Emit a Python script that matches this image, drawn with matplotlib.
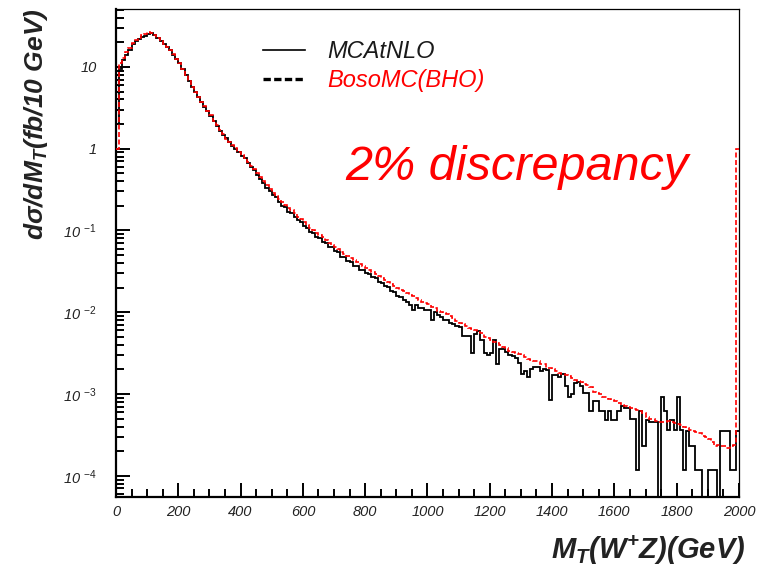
import numpy as np
import matplotlib
matplotlib.use("Agg")
import matplotlib.pyplot as plt
from matplotlib.lines import Line2D
from matplotlib.ticker import FixedLocator, LogLocator, MultipleLocator, NullFormatter

plt.rcParams['font.family'] = ['Liberation Sans', 'DejaVu Sans']
plt.rcParams['mathtext.fontset'] = 'custom'
plt.rcParams['mathtext.rm'] = 'Liberation Sans'
plt.rcParams['mathtext.it'] = 'Liberation Sans:italic'
plt.rcParams['mathtext.bf'] = 'Liberation Sans:italic:bold'
plt.rcParams['mathtext.default'] = 'it'

# 10 GeV bins from 0 to 2000 GeV
bin_width = 10
mt_min, mt_max = 0, 2000

# MCAtNLO, fb / 10 GeV
mcatnlo = [
    2.0, 9.4, 12.3, 14.0, 16.2, 18.8, 20.5, 22.0, 23.0, 23.8,
    25.5, 25.8, 24.2, 22.3, 20.6, 19.2, 17.4, 16.1, 14.1, 12.6,
    11.0, 9.4, 7.9, 6.7, 5.6, 4.9, 4.25, 3.7, 3.25, 2.9,
    2.5, 2.2, 1.9, 1.66, 1.45, 1.34, 1.2, 1.08, 1.0, 0.90,
    0.82, 0.76, 0.66, 0.60, 0.55, 0.47, 0.43, 0.385, 0.33, 0.305,
    0.27, 0.255, 0.22, 0.20, 0.192, 0.170, 0.165, 0.146, 0.133, 0.128,
    0.113, 0.108, 0.096, 0.093, 0.084, 0.080, 0.072, 0.070, 0.063, 0.062,
    0.056, 0.054, 0.048, 0.047, 0.042, 0.0415, 0.037, 0.0365, 0.033, 0.0325,
    0.0300, 0.0295, 0.0268, 0.0262, 0.0236, 0.0230, 0.0208, 0.0205, 0.0180, 0.0178,
    0.0160, 0.0155, 0.0141, 0.0135, 0.0123, 0.0107, 0.0123, 0.0112, 0.0112, 0.0107,
    0.0107, 0.0081, 0.0102, 0.0093, 0.0087, 0.0081, 0.0081, 0.0074, 0.0072, 0.0068,
    0.0066, 0.0051, 0.0051, 0.0051, 0.0032, 0.0054, 0.0059, 0.0046, 0.0032, 0.0030,
    0.0032, 0.0046, 0.0023, 0.0035, 0.0035, 0.0033, 0.0030, 0.0029, 0.00275, 0.0024,
    0.00178, 0.0019, 0.00162, 0.00204, 0.00214, 0.00214, 0.0019, 0.00204, 0.00195, 0.00085,
    0.0017, 0.0017, 0.00162, 0.00178, 0.00126, 0.00093, 0.0010, 0.00135, 0.00141, 0.00126,
    0.00102, 0.00102, 0.00062, 0.00081, 0.00081, 0.00062, 0.00062, 0.00048, 0.00062, 0.00048,
    0.00048, 0.00062, 0.00071, 0.00068, 0.00068, 0.0005, 0.0005, 0.000118, 0.00062, 0.00023,
    0.00048, 0.00046, 0.00046, 0.00046, 0, 0.00093, 0.00062, 0.00036, 0.00048, 0.00036,
    0.00093, 0.00036, 0.000118, 0.00035, 0.00023, 0.00023, 0.000118, 0.000118, 0, 0,
    0.000118, 0.000118, 0.000118, 0, 0.00035, 0.00035, 0.00035, 0.000118, 0.000118, 0.00035,
]

# BosoMC(BHO), fb / 10 GeV
bosomc = [
    1.0, 11.0, 13.0, 15.0, 17.0, 19.5, 21.2, 22.8, 24.2, 25.3,
    26.5, 26.3, 24.6, 22.5, 20.8, 19.0, 17.6, 15.9, 14.3, 12.5,
    11.2, 9.3, 8.0, 6.7, 5.7, 4.9, 4.3, 3.7, 3.3, 2.85,
    2.55, 2.2, 1.92, 1.68, 1.5, 1.33, 1.22, 1.1, 1.01, 0.92,
    0.84, 0.77, 0.69, 0.61, 0.56, 0.50, 0.445, 0.40, 0.355, 0.32,
    0.29, 0.265, 0.24, 0.222, 0.205, 0.188, 0.176, 0.162, 0.147, 0.138,
    0.126, 0.118, 0.108, 0.101, 0.094, 0.088, 0.082, 0.076, 0.071, 0.067,
    0.063, 0.059, 0.055, 0.052, 0.049, 0.046, 0.043, 0.041, 0.039, 0.037,
    0.035, 0.033, 0.031, 0.0295, 0.028, 0.0263, 0.025, 0.0237, 0.0223, 0.0212,
    0.0200, 0.0188, 0.0180, 0.0172, 0.0163, 0.0157, 0.0148, 0.0141, 0.0135, 0.0129,
    0.0125, 0.0117, 0.0112, 0.0104, 0.0102, 0.0098, 0.0094, 0.0089, 0.0086, 0.0079,
    0.0074, 0.0072, 0.0068, 0.0064, 0.0063, 0.0060, 0.0058, 0.0055, 0.0050, 0.0049,
    0.0046, 0.0043, 0.0042, 0.0040, 0.0038, 0.0037, 0.0034, 0.0033, 0.0032, 0.0031,
    0.0030, 0.0028, 0.0027, 0.0026, 0.0025, 0.0025, 0.0023, 0.0023, 0.0021, 0.0021,
    0.0020, 0.0019, 0.00182, 0.00175, 0.00170, 0.00165, 0.00158, 0.00150, 0.00146, 0.00141,
    0.00132, 0.00128, 0.00121, 0.00107, 0.00104, 0.00100, 0.00093, 0.00091, 0.00088, 0.00085,
    0.00082, 0.00078, 0.00074, 0.00072, 0.00070, 0.00068, 0.00066, 0.00063, 0.00062, 0.00058,
    0.00052, 0.0005, 0.00049, 0.00047, 0.00046, 0.00046, 0.00045, 0.00047, 0.00046, 0.00044,
    0.00043, 0.00042, 0.00040, 0.00038, 0.00036, 0.00035, 0.00034, 0.00033, 0.00031, 0.0003,
    0.00028, 0.00026, 0.00023, 0.00024, 0.00023, 0.00023, 0.00022, 0.00023, 0.00024, 1.0,
]

x_ticks = [0, 200, 400, 600, 800, 1000, 1200, 1400, 1600, 1800, 2000]
y_ticks = [1e-4, 1e-3, 1e-2, 1e-1, 1, 10]
y_ticklabels = ['10 $^{-4}$', '10 $^{-3}$', '10 $^{-2}$', '10 $^{-1}$', '1', '10']

edges = np.arange(mt_min, mt_max + bin_width, bin_width)

fig = plt.figure(figsize=(7.6, 5.71), dpi=100)
ax = fig.add_axes([0.1526, 0.1296, 0.8197, 0.8546])

ax.stairs(mcatnlo, edges, baseline=None, color='black', lw=1.3, zorder=2)
ax.stairs(bosomc, edges, baseline=None, color='red', lw=1.2,
          linestyle=(0, (3, 1.5)), zorder=3)

ax.set_yscale('log')
ax.set_xlim(mt_min, mt_max)
ax.set_ylim(5.5e-5, 51)

ax.xaxis.set_major_locator(FixedLocator(x_ticks))
ax.xaxis.set_minor_locator(MultipleLocator(50))
ax.set_xticklabels([str(t) for t in x_ticks], fontstyle='italic', fontsize=10.5,
                   color='#222222')
ax.yaxis.set_major_locator(FixedLocator(y_ticks))
ax.yaxis.set_minor_locator(LogLocator(base=10, subs=np.arange(2, 10)))
ax.yaxis.set_minor_formatter(NullFormatter())
ax.set_yticklabels(y_ticklabels, fontstyle='italic', fontsize=10.5, color='#222222')

ax.tick_params(which='both', direction='in', top=False, right=False, width=1.4)
ax.tick_params(which='major', length=10)
ax.tick_params(which='minor', length=5.5)
ax.tick_params(axis='y', pad=14)
ax.tick_params(axis='x', pad=6)

for side in ['left', 'bottom']:
    ax.spines[side].set_linewidth(1.6)
for side in ['top', 'right']:
    ax.spines[side].set_linewidth(0.9)

ax.set_ylabel('dσ/dM$_\\mathbf{T}$(fb/10 GeV)', fontsize=19, fontweight='bold',
              fontstyle='italic', color='#222222')
ax.yaxis.set_label_coords(-0.106, 0.764)
fig.text(0.98, 0.037, 'M$_\\mathbf{T}$(W$^\\mathbf{+}$Z)(GeV)', fontsize=21,
         fontweight='bold', fontstyle='italic', color='#222222',
         ha='right', va='center')

handles = [Line2D([], [], color='black', lw=1.2),
           Line2D([], [], color='black', lw=2.4, linestyle=(0, (2.2, 1.0)))]
leg = fig.legend(handles, ['MCAtNLO', 'BosoMC(BHO)'], loc='upper left',
                 bbox_to_anchor=(0.346, 0.93), frameon=False, borderpad=0,
                 borderaxespad=0, handlelength=1.78, handletextpad=0.93,
                 labelspacing=0.25, prop={'size': 17, 'style': 'italic'})
leg.get_texts()[0].set_color('#1a1a1a')
leg.get_texts()[1].set_color('red')

fig.text(0.454, 0.685, '2% discrepancy', color='red', fontsize=35,
         fontstyle='italic', va='baseline')

fig.savefig('out.png', dpi=100)
